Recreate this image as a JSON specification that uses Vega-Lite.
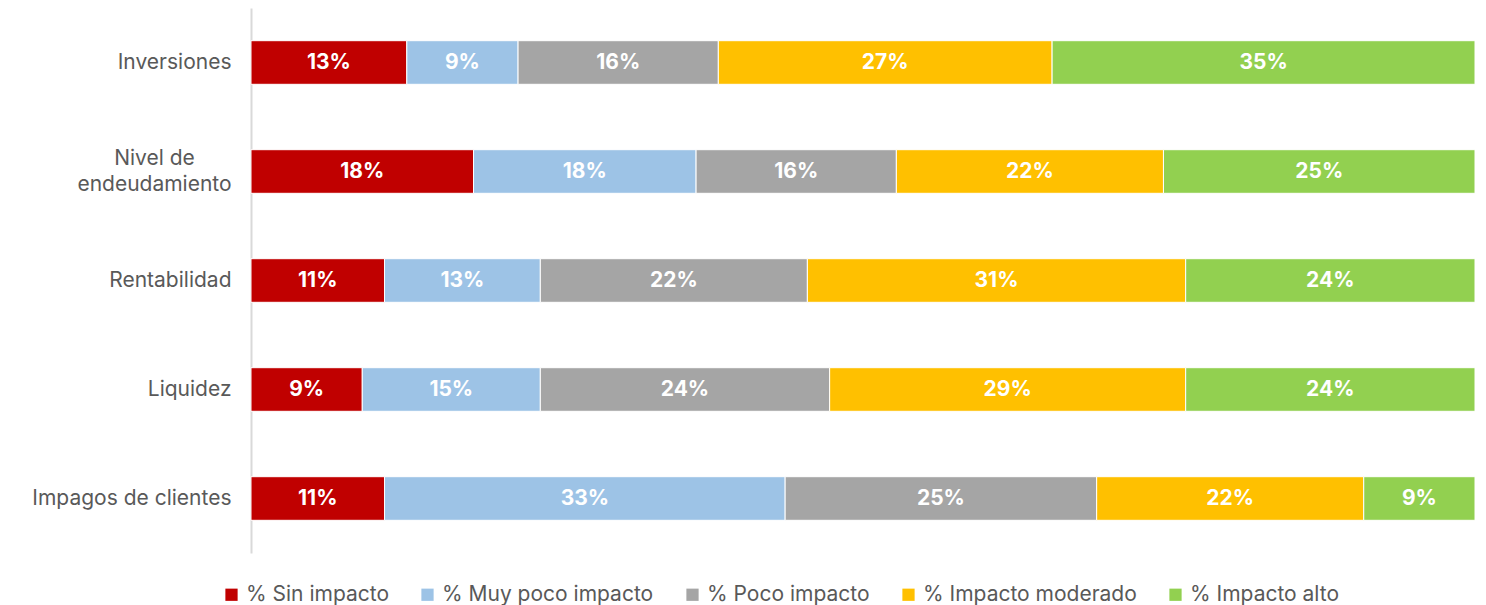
{
  "$schema": "https://vega.github.io/schema/vega-lite/v6.json",
  "width": 1224,
  "height": 545,
  "autosize": "none",
  "padding": {"left": 251, "top": 8, "right": 11, "bottom": 52},
  "config": {"view": {"stroke": null}, "font": "Inter"},
  "data": {
    "values": [
      {"item": "Inversiones", "cat": "% Sin impacto", "pct": 0.1273},
      {"item": "Inversiones", "cat": "% Muy poco impacto", "pct": 0.0909},
      {"item": "Inversiones", "cat": "% Poco impacto", "pct": 0.1636},
      {"item": "Inversiones", "cat": "% Impacto moderado", "pct": 0.2727},
      {"item": "Inversiones", "cat": "% Impacto alto", "pct": 0.3455},
      {"item": "Nivel de endeudamiento", "cat": "% Sin impacto", "pct": 0.1818},
      {"item": "Nivel de endeudamiento", "cat": "% Muy poco impacto", "pct": 0.1818},
      {"item": "Nivel de endeudamiento", "cat": "% Poco impacto", "pct": 0.1636},
      {"item": "Nivel de endeudamiento", "cat": "% Impacto moderado", "pct": 0.2182},
      {"item": "Nivel de endeudamiento", "cat": "% Impacto alto", "pct": 0.2545},
      {"item": "Rentabilidad", "cat": "% Sin impacto", "pct": 0.1091},
      {"item": "Rentabilidad", "cat": "% Muy poco impacto", "pct": 0.1273},
      {"item": "Rentabilidad", "cat": "% Poco impacto", "pct": 0.2182},
      {"item": "Rentabilidad", "cat": "% Impacto moderado", "pct": 0.3091},
      {"item": "Rentabilidad", "cat": "% Impacto alto", "pct": 0.2364},
      {"item": "Liquidez", "cat": "% Sin impacto", "pct": 0.0909},
      {"item": "Liquidez", "cat": "% Muy poco impacto", "pct": 0.1455},
      {"item": "Liquidez", "cat": "% Poco impacto", "pct": 0.2364},
      {"item": "Liquidez", "cat": "% Impacto moderado", "pct": 0.2909},
      {"item": "Liquidez", "cat": "% Impacto alto", "pct": 0.2364},
      {"item": "Impagos de clientes", "cat": "% Sin impacto", "pct": 0.1091},
      {"item": "Impagos de clientes", "cat": "% Muy poco impacto", "pct": 0.3273},
      {"item": "Impagos de clientes", "cat": "% Poco impacto", "pct": 0.2545},
      {"item": "Impagos de clientes", "cat": "% Impacto moderado", "pct": 0.2182},
      {"item": "Impagos de clientes", "cat": "% Impacto alto", "pct": 0.0909}
    ]
  },
  "transform": [
    {"calculate": "indexof(['% Sin impacto','% Muy poco impacto','% Poco impacto','% Impacto moderado','% Impacto alto'], datum.cat)", "as": "k"},
    {"stack": "pct", "groupby": ["item"], "sort": [{"field": "k"}], "offset": "normalize", "as": ["x0", "x1"]},
    {"calculate": "(datum.x0 + datum.x1) / 2", "as": "xm"}
  ],
  "encoding": {
    "y": {
      "field": "item",
      "type": "nominal",
      "sort": ["Inversiones", "Nivel de endeudamiento", "Rentabilidad", "Liquidez", "Impagos de clientes"],
      "scale": {"paddingInner": 0.6, "paddingOuter": 0.3},
      "axis": {
        "title": null,
        "domainColor": "#D9D9D9",
        "domainWidth": 2,
        "ticks": false,
        "labelFontSize": 21,
        "labelColor": "#595959",
        "labelPadding": {"condition": {"test": "datum.value == 'Nivel de endeudamiento'", "value": 97}, "value": 20},
        "labelAlign": {"condition": {"test": "datum.value == 'Nivel de endeudamiento'", "value": "center"}, "value": "right"},
        "labelOffset": {"condition": {"test": "datum.value == 'Nivel de endeudamiento'", "value": -13}, "value": 0},
        "labelLimit": 300,
        "labelLineHeight": 26,
        "labelExpr": "datum.label == 'Nivel de endeudamiento' ? ['Nivel de', 'endeudamiento'] : datum.label"
      }
    }
  },
  "layer": [
    {
      "mark": {"type": "bar", "stroke": "white", "strokeWidth": 1},
      "encoding": {
        "x": {"field": "x0", "type": "quantitative", "scale": {"domain": [0, 1]}, "axis": null},
        "x2": {"field": "x1"},
        "color": {
          "field": "cat",
          "type": "nominal",
          "scale": {
            "domain": ["% Sin impacto", "% Muy poco impacto", "% Poco impacto", "% Impacto moderado", "% Impacto alto"],
            "range": ["#C00000", "#9DC3E6", "#A5A5A5", "#FFC000", "#92D050"]
          },
          "legend": {
            "orient": "none",
            "legendX": -30,
            "legendY": 576,
            "direction": "horizontal",
            "title": null,
            "symbolType": "square",
            "symbolSize": 150,
            "symbolStrokeWidth": 0,
            "labelFontSize": 21,
            "labelColor": "#595959",
            "labelLimit": 400,
            "columnPadding": 28,
            "labelOffset": 4
          }
        }
      }
    },
    {
      "mark": {"type": "text", "color": "white", "fontWeight": "bold", "fontSize": 21},
      "encoding": {
        "x": {"field": "xm", "type": "quantitative"},
        "text": {"field": "pct", "type": "quantitative", "format": ".0%"}
      }
    }
  ]
}
